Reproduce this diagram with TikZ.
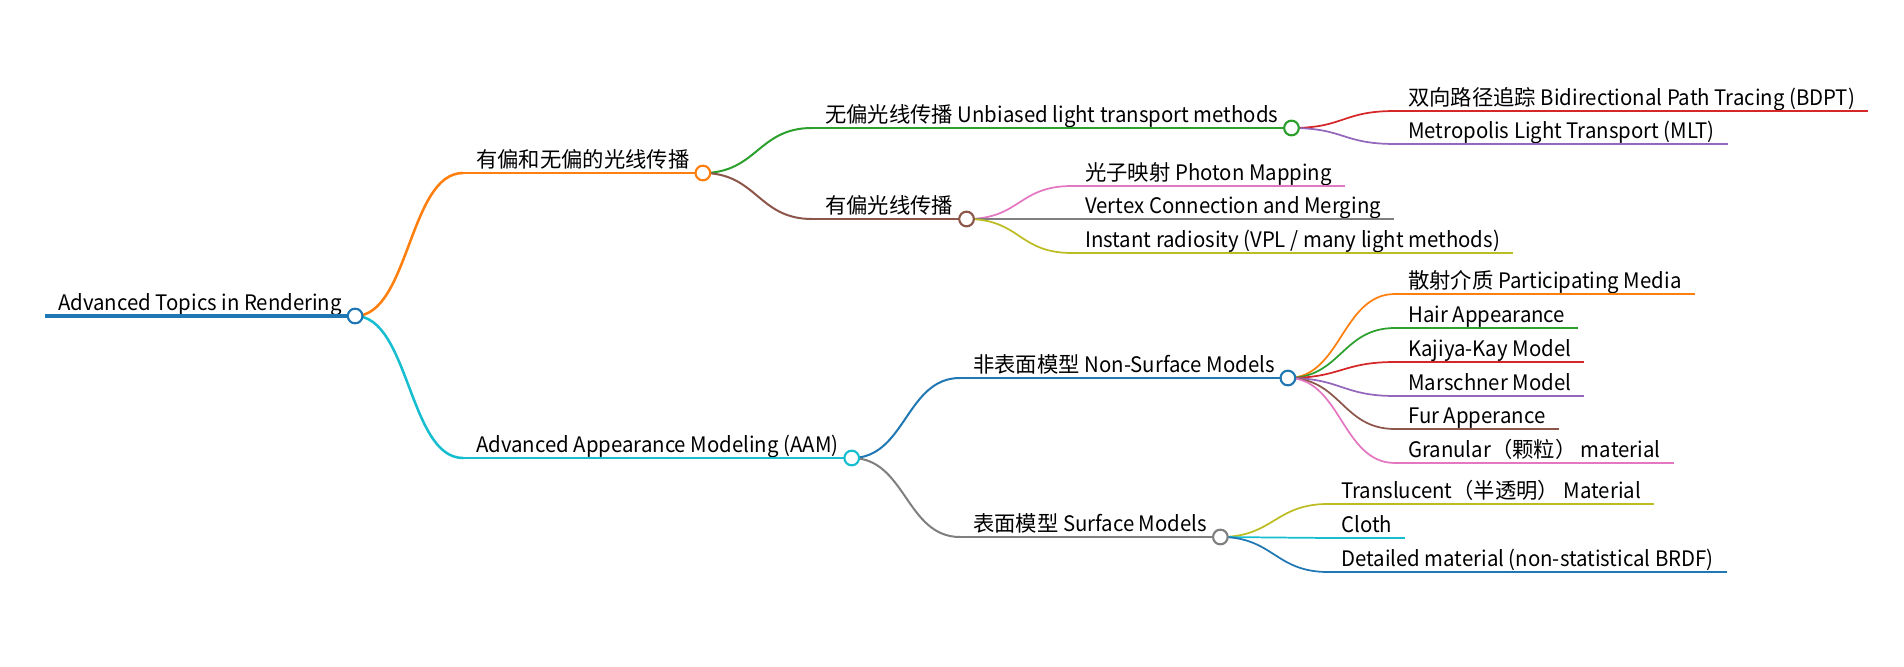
\documentclass[tikz,border=0pt]{standalone}
\usepackage{fontspec}
\setmainfont[FakeStretch=0.955]{Noto Sans CJK SC}
\newfontfamily\cjk{Noto Sans CJK SC}
\definecolor{mmblue}{HTML}{1F77B4}
\definecolor{mmorange}{HTML}{FF7F0E}
\definecolor{mmgreen}{HTML}{2CA02C}
\definecolor{mmred}{HTML}{D62728}
\definecolor{mmpurple}{HTML}{9467BD}
\definecolor{mmbrown}{HTML}{8C564B}
\definecolor{mmpink}{HTML}{E377C2}
\definecolor{mmgray}{HTML}{7F7F7F}
\definecolor{mmolive}{HTML}{BCBD22}
\definecolor{mmcyan}{HTML}{17BECF}
\tikzset{
  topic/.style={anchor=south west, inner xsep=9.75pt, inner ysep=0pt, text depth=3.75pt,
    font=\fontsize{16}{19}\selectfont},
  dot/.style={circle, fill=white, line width=1.6pt, inner sep=0pt, minimum size=11pt},
  lroot/.style={line width=3.4pt},
  lone/.style={line width=1.9pt},
  ltwo/.style={line width=1.5pt},
  lthree/.style={line width=1.3pt},
  link/.style={line cap=round}
}

\begin{document}
\begin{tikzpicture}[x=0.75pt,y=-0.75pt]
\useasboundingbox (0,0) rectangle (1904,667);

% topics
\node[topic] (root) at (45,316) {Advanced Topics in Rendering};
\node[topic] (bias) at (463,173) {\cjk 有偏和无偏的光线传播};
\node[topic] (aam) at (463,458) {Advanced Appearance Modeling (AAM)};
\node[topic] (unb) at (812,128) {{\cjk 无偏光线传播} Unbiased light transport methods};
\node[topic] (bsd) at (812,219) {\cjk 有偏光线传播};
\node[topic] (nsm) at (960,378) {{\cjk 非表面模型} Non-Surface Models};
\node[topic] (srf) at (960,537) {{\cjk 表面模型} Surface Models};
\node[topic] (bdpt) at (1395,111) {{\cjk 双向路径追踪} Bidirectional Path Tracing (BDPT)};
\node[topic] (mlt) at (1395,144) {Metropolis Light Transport (MLT)};
\node[topic] (pm) at (1072,186) {{\cjk 光子映射} Photon Mapping};
\node[topic] (vcm) at (1072,219) {Vertex Connection and Merging};
\node[topic] (ir) at (1072,253) {Instant radiosity (VPL / many light methods)};
\node[topic] (pmed) at (1395,294) {{\cjk 散射介质} Participating Media};
\node[topic] (hair) at (1395,328) {Hair Appearance};
\node[topic] (kk) at (1395,362) {Kajiya-Kay Model};
\node[topic] (msch) at (1395,396) {Marschner Model};
\node[topic] (fur) at (1395,429) {Fur Apperance};
\node[topic] (gran) at (1395,463) {Granular{\cjk （颗粒）} material};
\node[topic] (trl) at (1328,504) {Translucent{\cjk （半透明）} Material};
\node[topic] (cloth) at (1328,538) {Cloth};
\node[topic] (dtl) at (1328,572) {Detailed material (non-statistical BRDF)};

% links
\draw[link,lone,mmorange] (root.south east) .. controls +(54,0) and +(-54,0) .. (bias.south west);
\draw[link,lone,mmcyan] (root.south east) .. controls +(54,0) and +(-54,0) .. (aam.south west);
\draw[link,ltwo,mmgreen] (bias.south east) .. controls +(54,0) and +(-54,0) .. (unb.south west);
\draw[link,ltwo,mmbrown] (bias.south east) .. controls +(54,0) and +(-54,0) .. (bsd.south west);
\draw[link,ltwo,mmblue] (aam.south east) .. controls +(54,0) and +(-54,0) .. (nsm.south west);
\draw[link,ltwo,mmgray] (aam.south east) .. controls +(54,0) and +(-54,0) .. (srf.south west);
\draw[link,lthree,mmred] (unb.south east) .. controls +(53,0) and +(-53,0) .. (bdpt.south west);
\draw[link,lthree,mmpurple] (unb.south east) .. controls +(53,0) and +(-53,0) .. (mlt.south west);
\draw[link,lthree,mmpink] (bsd.south east) .. controls +(54,0) and +(-54,0) .. (pm.south west);
\draw[link,lthree,mmgray] (bsd.south east) .. controls +(54,0) and +(-54,0) .. (vcm.south west);
\draw[link,lthree,mmolive] (bsd.south east) .. controls +(54,0) and +(-54,0) .. (ir.south west);
\draw[link,lthree,mmorange] (nsm.south east) .. controls +(53,0) and +(-53,0) .. (pmed.south west);
\draw[link,lthree,mmgreen] (nsm.south east) .. controls +(53,0) and +(-53,0) .. (hair.south west);
\draw[link,lthree,mmred] (nsm.south east) .. controls +(53,0) and +(-53,0) .. (kk.south west);
\draw[link,lthree,mmpurple] (nsm.south east) .. controls +(53,0) and +(-53,0) .. (msch.south west);
\draw[link,lthree,mmbrown] (nsm.south east) .. controls +(53,0) and +(-53,0) .. (fur.south west);
\draw[link,lthree,mmpink] (nsm.south east) .. controls +(53,0) and +(-53,0) .. (gran.south west);
\draw[link,lthree,mmolive] (srf.south east) .. controls +(53,0) and +(-53,0) .. (trl.south west);
\draw[link,lthree,mmcyan] (srf.south east) .. controls +(53,0) and +(-53,0) .. (cloth.south west);
\draw[link,lthree,mmblue] (srf.south east) .. controls +(53,0) and +(-53,0) .. (dtl.south west);

% underlines
\draw[lroot,mmblue] (root.south west) -- (root.south east);
\draw[lone,mmorange] (bias.south west) -- (bias.south east);
\draw[lone,mmcyan] (aam.south west) -- (aam.south east);
\draw[ltwo,mmgreen] (unb.south west) -- (unb.south east);
\draw[ltwo,mmbrown] (bsd.south west) -- (bsd.south east);
\draw[ltwo,mmblue] (nsm.south west) -- (nsm.south east);
\draw[ltwo,mmgray] (srf.south west) -- (srf.south east);
\draw[lthree,mmred] (bdpt.south west) -- (bdpt.south east);
\draw[lthree,mmpurple] (mlt.south west) -- (mlt.south east);
\draw[lthree,mmpink] (pm.south west) -- (pm.south east);
\draw[lthree,mmgray] (vcm.south west) -- (vcm.south east);
\draw[lthree,mmolive] (ir.south west) -- (ir.south east);
\draw[lthree,mmorange] (pmed.south west) -- (pmed.south east);
\draw[lthree,mmgreen] (hair.south west) -- (hair.south east);
\draw[lthree,mmred] (kk.south west) -- (kk.south east);
\draw[lthree,mmpurple] (msch.south west) -- (msch.south east);
\draw[lthree,mmbrown] (fur.south west) -- (fur.south east);
\draw[lthree,mmpink] (gran.south west) -- (gran.south east);
\draw[lthree,mmolive] (trl.south west) -- (trl.south east);
\draw[lthree,mmcyan] (cloth.south west) -- (cloth.south east);
\draw[lthree,mmblue] (dtl.south west) -- (dtl.south east);

% dots
\node[dot,draw=mmblue] (root-d) at (root.south east) {};
\node[dot,draw=mmorange] (bias-d) at (bias.south east) {};
\node[dot,draw=mmcyan] (aam-d) at (aam.south east) {};
\node[dot,draw=mmgreen] (unb-d) at (unb.south east) {};
\node[dot,draw=mmbrown] (bsd-d) at (bsd.south east) {};
\node[dot,draw=mmblue] (nsm-d) at (nsm.south east) {};
\node[dot,draw=mmgray] (srf-d) at (srf.south east) {};

\end{tikzpicture}
\end{document}
